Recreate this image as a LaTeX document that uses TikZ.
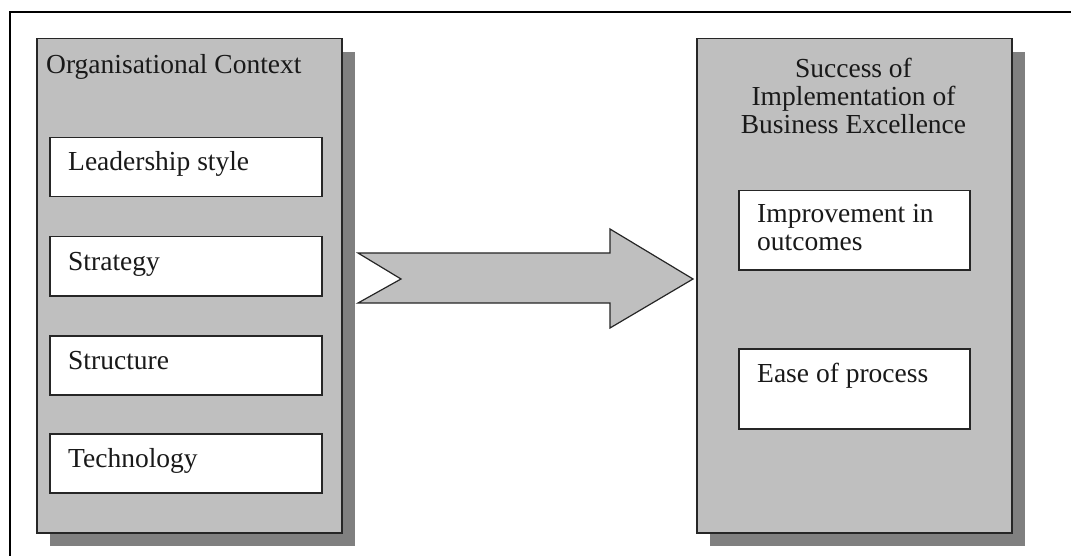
\documentclass[tikz,border=0pt]{standalone}
\usepackage{fontspec}
\setmainfont{Liberation Serif}
\usetikzlibrary{shadows}
\definecolor{panelgray}{gray}{0.75}
\definecolor{shadowgray}{gray}{0.5}
\definecolor{edgegray}{gray}{0.15}
\begin{document}
\begin{tikzpicture}[x=1pt,y=-1pt,
  panel/.style={draw=edgegray, line width=1.5pt, fill=panelgray, anchor=north west,
    inner sep=0pt, drop shadow={shadow xshift=13pt, shadow yshift=-13pt,
    fill=shadowgray, opacity=1}},
  itembox/.style={draw=edgegray, line width=1.5pt, fill=white, anchor=north west, inner sep=0pt},
  txt/.style={inner sep=0pt, font=\fontsize{27.5}{28}\selectfont, text=black!90},
  flow/.style={draw=edgegray, line width=1.2pt, fill=panelgray, line join=miter}]
\useasboundingbox (0,0) rectangle (1071,556);
% frame
\draw[line width=2.8pt] (10,556) -- (10,12) -- (1071,12);

% left panel: organisational context
\node[panel, minimum width=305pt, minimum height=494pt] (ctx) at (36,38) {};
\node[txt, anchor=base west] (ctxtitle) at (46,74) {Organisational Context};
\foreach \name/\top/\label in {lead/137/Leadership style, strat/236/Strategy,
    struc/335/Structure, tech/433/Technology}{
  \node[itembox, minimum width=272pt, minimum height=59pt] (\name) at (49,\top) {};
  \node[txt, anchor=base west] (\name text) at (68,\top+34) {\label};
}

% right panel: success of implementation
% (the base anchor of a multi-line node sits on its last line)
\node[panel, minimum width=315pt, minimum height=494pt] (succ) at (696,38) {};
\node[txt, anchor=base, align=center] (succtitle) at (853.5,134)
  {Success of\\Implementation of\\Business Excellence};
\node[itembox, minimum width=231pt, minimum height=79pt] (impr) at (738,190) {};
\node[txt, anchor=base west, align=left] (imprtext) at (757,251) {Improvement in\\outcomes};
\node[itembox, minimum width=231pt, minimum height=80pt] (ease) at (738,348) {};
\node[txt, anchor=base west] (easetext) at (757,382) {Ease of process};

% notched block arrow between the panels
\draw[flow] (358,253) -- (610,253) -- (610,229) -- (693,279) -- (610,328)
  -- (610,303) -- (358,303) -- (401,279) -- cycle;
\end{tikzpicture}
\end{document}
